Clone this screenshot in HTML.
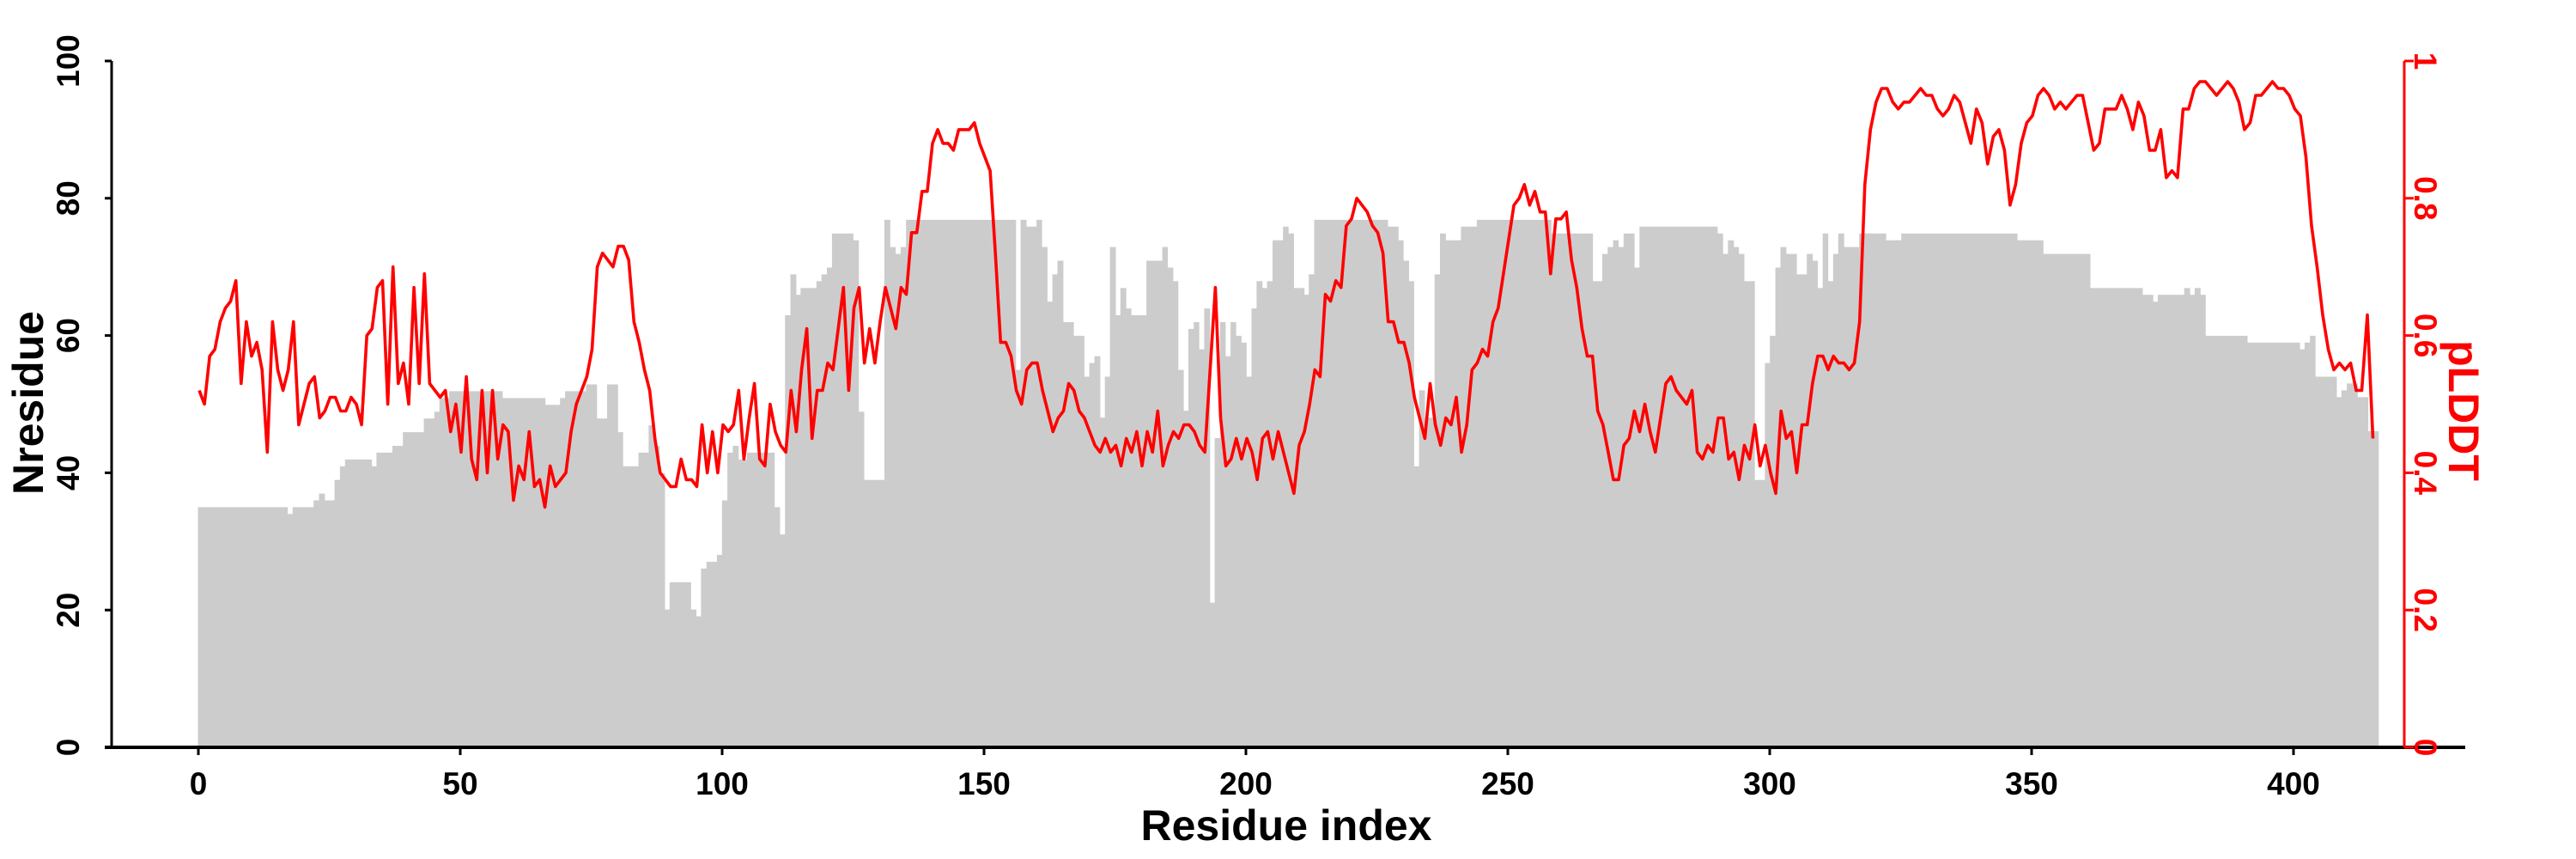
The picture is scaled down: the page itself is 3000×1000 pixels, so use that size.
<!DOCTYPE html>
<html><head><meta charset="utf-8"><style>
html,body{margin:0;padding:0;background:#fff;}
svg{display:block;}
text{font-family:"Liberation Sans",sans-serif;font-weight:bold;}
</style></head><body>
<svg id="s" width="3000" height="1000" xmlns="http://www.w3.org/2000/svg">
<g id="bars" fill="#cccccc"></g>
<polyline id="pl" fill="none" stroke="#ff0000" stroke-width="3.6" stroke-linejoin="round"/>
<g id="axes"></g>
<text x="1498" y="978" font-size="50" text-anchor="middle">Residue index</text>
<text transform="translate(50,469) rotate(-90)" font-size="50" text-anchor="middle">Nresidue</text>
<text transform="translate(2852,478) rotate(90)" font-size="50" text-anchor="middle" fill="#ff0000">pLDDT</text>
</svg>
<script>
var NS="http://www.w3.org/2000/svg";
function el(t,a,p){var e=document.createElementNS(NS,t);for(var k in a)e.setAttribute(k,a[k]);p.appendChild(e);return e;}
var Z=[
[220,1568,[[25,1002],[272,1017],[287,1002],[345,987],[360,972],[375,987],[403,942],[418,912],[432,897],[505,912],[519,882],[563,867],[592,837],[650,807],[679,792],[693,762],[720,747],[867,762],[985,777],[1027,762],[1041,747],[1099,732],[1128,807],[1157,732],[1186,837],[1200,912],[1244,882],[1272,822],[1287,867],[1301,927],[1316,1227],[1330,1167],[1388,1227],[1403,1242],[1417,1137],[1432,1122],[1461,1107],[1475,987],[1490,882],[1505,867],[1520,897],[1545,882]]],
[870,1568,[[0,882],[75,1002],[90,1062],[105,580],[120,490],[135,535],[148,520],[192,505],[206,490],[221,475],[235,400],[293,415],[308,792],[323,942],[380,370],[395,430],[410,445],[425,430],[440,370],[743,700],[757,370],[772,385],[801,370],[815,430],[830,550],[845,490],[859,460],[874,595],[903,625],[932,715],[947,685],[961,670],[976,805],[990,715],[1004,430],[1019,580],[1033,520],[1048,565],[1062,580],[1105,460],[1149,430],[1163,475],[1178,505],[1192,700],[1207,790],[1221,610],[1236,595],[1250,655],[1265,565],[1280,1212],[1294,850],[1309,595],[1323,670],[1338,595],[1352,625],[1367,640],[1381,715],[1396,565],[1410,505],[1425,520],[1439,505],[1454,415],[1483,385],[1497,400],[1512,520],[1541,535],[1555,490]]],
[1520,1568,[[0,535],[10,490],[25,370],[228,385],[257,415],[271,460],[286,505],[300,912],[315,745],[330,805],[358,490],[373,400],[388,415],[431,385],[475,370],[680,400],[795,505],[822,445],[837,430],[852,415],[866,430],[881,400],[910,475],[925,385],[1140,400],[1155,445],[1170,415],[1185,430],[1199,445],[1214,505],[1243,942],[1272,685],[1286,625],[1301,475],[1315,430],[1330,445],[1359,490],[1388,445],[1403,460],[1417,520],[1432,400],[1446,505],[1461,445],[1475,400],[1490,430],[1533,400]]],
[2170,1425,[[0,400],[62,415],[105,400],[425,415],[497,445],[627,520],[772,535],[801,550],[815,535],[888,520],[903,535],[917,520],[932,535],[946,625],[1062,640],[1207,655],[1221,640],[1236,625],[1250,715],[1309,760],[1323,745],[1338,730],[1367,760],[1396,835]]]
];
var bg=document.getElementById('bars');
Z.forEach(function(z){var x0=z[0],end=z[1],s=z[2];
 for(var i=0;i<s.length;i++){var a=s[i][0],b=(i+1<s.length?s[i+1][0]:end);
  var X1=x0+a/2.376,X2=x0+b/2.376,Y=60+s[i][1]/1.889;
  el('rect',{x:X1.toFixed(1),y:Y.toFixed(1),width:(X2-X1+0.6).toFixed(1),height:(870-Y).toFixed(1)},bg);}});
var P=[0.52,0.50,0.57,0.58,0.62,0.64,0.65,0.68,0.53,0.62,0.57,0.59,0.55,0.43,0.62,0.55,0.52,0.55,0.62,0.47,0.50,0.53,0.54,0.48,0.49,0.51,0.51,0.49,0.49,0.51,0.50,0.47,0.60,0.61,0.67,0.68,0.50,0.70,0.53,0.56,0.50,0.67,0.53,0.69,0.53,0.52,0.51,0.52,0.46,0.50,0.43,0.54,0.42,0.39,0.52,0.40,0.52,0.42,0.47,0.46,0.36,0.41,0.39,0.46,0.38,0.39,0.35,0.41,0.38,0.39,0.40,0.46,0.50,0.52,0.54,0.58,0.70,0.72,0.71,0.70,0.73,0.73,0.71,0.62,0.59,0.55,0.52,0.45,0.40,0.39,0.38,0.38,0.42,0.39,0.39,0.38,0.47,0.40,0.46,0.40,0.47,0.46,0.47,0.52,0.42,0.48,0.53,0.42,0.41,0.50,0.46,0.44,0.43,0.52,0.46,0.55,0.61,0.45,0.52,0.52,0.56,0.55,0.61,0.67,0.52,0.64,0.67,0.56,0.61,0.56,0.62,0.67,0.64,0.61,0.67,0.66,0.75,0.75,0.81,0.81,0.88,0.90,0.88,0.88,0.87,0.90,0.90,0.90,0.91,0.88,0.86,0.84,0.72,0.59,0.59,0.57,0.52,0.50,0.55,0.56,0.56,0.52,0.49,0.46,0.48,0.49,0.53,0.52,0.49,0.48,0.46,0.44,0.43,0.45,0.43,0.44,0.41,0.45,0.43,0.46,0.41,0.46,0.43,0.49,0.41,0.44,0.46,0.45,0.47,0.47,0.46,0.44,0.43,0.55,0.67,0.48,0.41,0.42,0.45,0.42,0.45,0.43,0.39,0.45,0.46,0.42,0.46,0.43,0.40,0.37,0.44,0.46,0.50,0.55,0.54,0.66,0.65,0.68,0.67,0.76,0.77,0.80,0.79,0.78,0.76,0.75,0.72,0.62,0.62,0.59,0.59,0.56,0.51,0.48,0.45,0.53,0.47,0.44,0.48,0.47,0.51,0.43,0.47,0.55,0.56,0.58,0.57,0.62,0.64,0.69,0.74,0.79,0.80,0.82,0.79,0.81,0.78,0.78,0.69,0.77,0.77,0.78,0.71,0.67,0.61,0.57,0.57,0.49,0.47,0.43,0.39,0.39,0.44,0.45,0.49,0.46,0.50,0.46,0.43,0.48,0.53,0.54,0.52,0.51,0.50,0.52,0.43,0.42,0.44,0.43,0.48,0.48,0.42,0.43,0.39,0.44,0.42,0.47,0.41,0.44,0.40,0.37,0.49,0.45,0.46,0.40,0.47,0.47,0.53,0.57,0.57,0.55,0.57,0.56,0.56,0.55,0.56,0.62,0.82,0.90,0.94,0.96,0.96,0.94,0.93,0.94,0.94,0.95,0.96,0.95,0.95,0.93,0.92,0.93,0.95,0.94,0.91,0.88,0.93,0.91,0.85,0.89,0.90,0.87,0.79,0.82,0.88,0.91,0.92,0.95,0.96,0.95,0.93,0.94,0.93,0.94,0.95,0.95,0.91,0.87,0.88,0.93,0.93,0.93,0.95,0.93,0.90,0.94,0.92,0.87,0.87,0.90,0.83,0.84,0.83,0.93,0.93,0.96,0.97,0.97,0.96,0.95,0.96,0.97,0.96,0.94,0.90,0.91,0.95,0.95,0.96,0.97,0.96,0.96,0.95,0.93,0.92,0.86,0.76,0.70,0.63,0.58,0.55,0.56,0.55,0.56,0.52,0.52,0.63,0.45];
var pts=[];
for(var i=0;i<P.length;i++){var r=i; if(r>318) r=318+(r-318)*(415-318)/(P.length-1-318);
 pts.push((232+6.1*r).toFixed(1)+','+(870-799*P[i]).toFixed(1));}
document.getElementById('pl').setAttribute('points',pts.join(' '));
var ax=document.getElementById('axes');
el('line',{x1:130,y1:71,x2:130,y2:871,stroke:'#000','stroke-width':3},ax);
el('line',{x1:122,y1:870,x2:2871,y2:870,stroke:'#000','stroke-width':4},ax);
for(var v=0;v<=100;v+=20){var y=870-7.99*v;
 el('line',{x1:122,y1:y,x2:130,y2:y,stroke:'#000','stroke-width':3},ax);
 var t=el('text',{transform:'translate(92,'+y+') rotate(-90)','font-size':37,'text-anchor':'middle'},ax);t.textContent=v;}
for(var k=0;k<=400;k+=50){var x=231+6.1*k;
 el('line',{x1:x,y1:870,x2:x,y2:879,stroke:'#000','stroke-width':3},ax);
 var t2=el('text',{x:x,y:925,'font-size':37,'text-anchor':'middle'},ax);t2.textContent=k;}
el('line',{x1:2800,y1:71,x2:2800,y2:870,stroke:'#ff0000','stroke-width':3},ax);
for(var j=0;j<=5;j++){var p=j*0.2,y2=870-799*p;
 el('line',{x1:2800,y1:y2,x2:2811,y2:y2,stroke:'#ff0000','stroke-width':3},ax);
 var lab=(j==0?'0':(j==5?'1':p.toFixed(1)));
 var t3=el('text',{transform:'translate(2812,'+y2+') rotate(90)','font-size':37,'text-anchor':'middle',fill:'#ff0000'},ax);t3.textContent=lab;}
</script>
</body></html>
